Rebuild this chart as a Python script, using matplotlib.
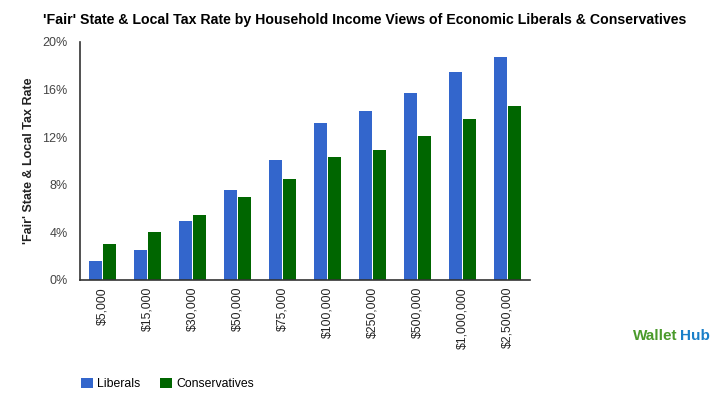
import matplotlib.pyplot as plt
import numpy as np

plt.rcParams['font.family'] = ['Liberation Sans', 'DejaVu Sans']

incomes = ["$5,000", "$15,000", "$30,000", "$50,000", "$75,000",
           "$100,000", "$250,000", "$500,000", "$1,000,000", "$2,500,000"]
liberals = [1.6, 2.5, 5.0, 7.6, 10.1, 13.2, 14.2, 15.7, 17.5, 18.7]
conservatives = [3.0, 4.0, 5.5, 7.0, 8.5, 10.3, 10.9, 12.1, 13.5, 14.6]
y_ticks = [0, 4, 8, 12, 16, 20]

fig = plt.figure(figsize=(7.17, 3.96), dpi=100)
ax = fig.add_axes([80 / 717, 1 - 280 / 396, 450 / 717, 238 / 396])

x = np.arange(len(incomes))
w = 0.29
ax.bar(x - w / 2 - 0.005, liberals, width=w, color="#3366cc", label="Liberals")
ax.bar(x + w / 2 + 0.005, conservatives, width=w, color="#006600", label="Conservatives")

ax.set_xlim(-0.5, len(incomes) - 0.5)
ax.set_ylim(0, 20)
ax.set_yticks(y_ticks)
ax.set_yticklabels([f"{t}%" for t in y_ticks], color="#444444", fontsize=9)
ax.set_xticks(x)
ax.set_xticklabels(incomes, rotation=90, color="#222222", fontsize=8.8)
ax.tick_params(axis="x", length=0, pad=5)
ax.tick_params(axis="y", length=0, pad=9)

for s in ["top", "right"]:
    ax.spines[s].set_visible(False)
ax.spines["left"].set_color("#333333")
ax.spines["bottom"].set_color("#333333")
ax.spines["left"].set_linewidth(1.2)
ax.spines["bottom"].set_linewidth(1.2)

ax.set_ylabel("'Fair' State & Local Tax Rate", fontsize=9, fontweight="bold",
              color="#222222", labelpad=5)

fig.text(0.508, 0.95, "'Fair' State & Local Tax Rate by Household Income Views of "
         "Economic Liberals & Conservatives",
         ha="center", va="center", fontsize=10.2, fontweight="bold", color="#000000")

fig.legend(loc="center left", bbox_to_anchor=(70 / 717, 1 - 384 / 396), ncol=2,
           frameon=False, fontsize=8.8, handlelength=0.95, handleheight=0.95,
           handletextpad=0.4, columnspacing=1.6)

fig.text(633 / 717, 1 - 336 / 396, "Wallet", color="#4a9a2a", fontsize=11,
         fontweight="bold", va="center", ha="left")
fig.text(680 / 717, 1 - 336 / 396, "Hub", color="#1a7fc8", fontsize=11,
         fontweight="bold", va="center", ha="left")

fig.savefig("out.png", dpi=100)
